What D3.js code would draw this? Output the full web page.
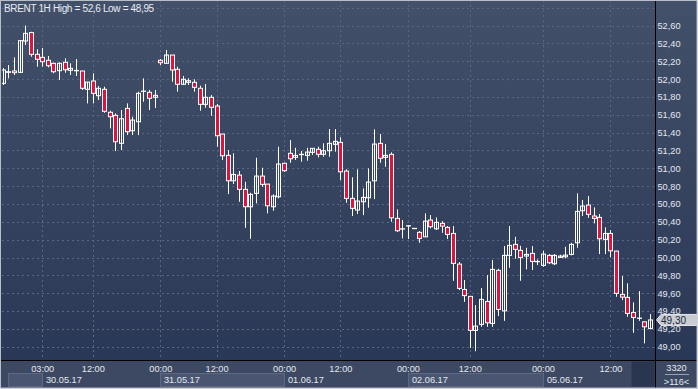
<!DOCTYPE html>
<html>
<head>
<meta charset="utf-8">
<script src="https://cdn.jsdelivr.net/npm/d3@7"></script>
<style>
  html, body { margin: 0; padding: 0; background: #2e3b57; }
  svg { display: block; }
  text { font-family: "Liberation Sans", Arial, sans-serif; }
</style>
</head>
<body>
<div class="chart"></div>
<script>
// hourly Brent candles (116 bars)
var opens = [51.953,52.076,52.091,52.076,52.427,52.522,52.278,52.244,52.211,52.177,
  52.094,52.188,52.099,52.097,52.091,51.886,51.979,51.814,51.886,51.628,
  51.594,51.280,51.672,51.421,51.522,51.863,51.852,51.796,52.211,52.177,
  52.270,52.110,51.942,51.964,51.964,51.897,51.717,51.796,51.698,51.384,
  51.145,50.860,50.924,50.764,50.569,50.719,50.913,50.823,50.569,50.681,
  51.056,51.168,51.123,51.157,51.145,51.179,51.213,51.157,51.197,51.269,
  51.291,50.969,50.663,50.532,50.625,50.670,50.860,51.280,51.123,51.157,
  50.439,50.322,50.356,50.327,50.282,50.232,50.420,50.322,50.383,50.338,
  50.270,49.926,49.642,49.564,49.183,49.250,49.508,49.261,49.856,49.402,
  50.024,50.147,50.080,50.016,50.046,49.956,49.912,50.024,49.930,50.001,
  50.008,50.035,50.165,50.524,50.588,50.465,50.450,50.203,50.270,50.072,
  49.586,49.553,49.384,49.321,49.279,49.205];
var highs = [52.124,52.158,52.244,52.438,52.600,52.531,52.334,52.349,52.259,52.184,
  52.188,52.233,52.177,52.225,52.091,51.967,52.065,51.922,51.915,51.646,
  51.616,51.653,51.728,51.578,51.859,52.009,51.878,51.878,52.225,52.326,
  52.270,52.139,52.035,52.009,51.998,51.926,51.945,51.822,51.721,51.384,
  51.205,51.168,50.969,50.849,50.726,51.118,51.006,50.823,50.708,51.242,
  51.062,51.317,51.230,51.194,51.230,51.224,51.242,51.280,51.440,51.440,
  51.347,50.988,50.899,50.988,50.775,50.999,51.437,51.384,51.272,51.179,
  50.540,50.420,50.364,50.327,50.296,50.495,50.476,50.450,50.408,50.352,
  50.352,49.949,49.747,49.564,49.466,49.657,49.803,49.971,49.874,50.128,
  50.352,50.232,50.131,50.109,50.128,49.979,50.075,50.038,50.038,50.031,
  50.120,50.165,50.719,50.644,50.689,50.562,50.487,50.338,50.308,50.075,
  49.792,49.710,49.497,49.623,49.279,49.366];
var lows = [51.934,52.009,52.046,52.068,52.382,52.251,52.139,52.139,52.132,52.065,
  51.990,52.072,52.046,52.035,51.878,51.728,51.728,51.766,51.623,51.448,
  51.194,51.205,51.373,51.373,51.373,51.746,51.653,51.676,52.158,52.177,
  51.971,51.859,51.934,51.934,51.859,51.646,51.679,51.589,51.242,51.093,
  50.711,50.823,50.625,50.333,50.210,50.607,50.793,50.495,50.524,50.663,
  50.961,51.062,51.093,51.074,51.085,51.149,51.123,51.130,51.130,51.186,
  50.868,50.614,50.465,50.487,50.476,50.558,50.655,51.062,51.017,50.401,
  50.288,50.214,50.207,50.327,50.165,50.226,50.327,50.308,50.277,50.207,
  49.739,49.635,49.503,48.987,48.950,49.223,49.223,49.223,49.343,49.290,
  49.885,49.986,49.739,49.867,49.859,49.915,49.896,49.926,49.915,49.994,
  49.990,50.024,50.109,50.465,50.445,50.383,50.038,50.038,50.001,49.560,
  49.522,49.335,49.156,49.290,49.037,49.194];
var closes = [52.102,52.083,52.072,52.431,52.513,52.278,52.222,52.195,52.150,52.083,
  52.177,52.105,52.121,52.097,51.897,51.967,51.841,51.897,51.639,51.578,
  51.298,51.556,51.410,51.541,51.841,51.866,51.785,51.818,52.184,52.270,
  52.102,51.942,51.998,51.982,51.908,51.717,51.796,51.684,51.365,51.141,
  50.860,50.932,50.764,50.569,50.708,50.913,50.820,50.580,50.689,51.048,
  50.973,51.107,51.145,51.157,51.182,51.224,51.157,51.197,51.280,51.302,
  50.961,50.663,50.551,50.633,50.674,50.846,51.272,51.112,51.145,50.445,
  50.300,50.322,50.356,50.327,50.214,50.408,50.345,50.394,50.352,50.259,
  49.934,49.654,49.573,49.183,49.231,49.530,49.268,49.867,49.418,50.024,
  50.136,50.091,50.001,50.035,49.956,49.956,50.038,49.941,50.024,50.016,
  50.027,50.147,50.517,50.577,50.484,50.439,50.210,50.270,50.075,49.598,
  49.556,49.373,49.328,49.321,49.223,49.300];

var priceTicks = [49.0,49.2,49.4,49.6,49.8,50.0,50.2,50.4,50.6,50.8,51.0,51.2,51.4,51.6,51.8,52.0,52.2,52.4,52.6];
var gridExtra = [52.8];
var timeTickIndex = [7,16,28,38,50,60,72,83,96,108];
var timeTickLabels = ["03:00","12:00","00:00","12:00","00:00","12:00","00:00","12:00","00:00","12:00"];
var dayStartIndex = [0,7,28,50,72,96];
var dayLabels = ["","30.05.17","31.05.17","01.06.17","02.06.17","05.06.17"];
var lastPrice = 49.30;
var titleText = "BRENT 1H High = 52,6 Low = 48,95";

var width = 698, height = 389;
var plotRight = 655.5, plotBottom = 360.5;

var svg = d3.select(".chart").append("svg")
  .attr("width", width)
  .attr("height", height)

var defs = svg.append("defs");

var bg = defs.append("linearGradient")
  .attr("id", "bgGrad")
  .attr("x1", "0%").attr("x2", "0%")
  .attr("y1", "0%").attr("y2", "100%");
bg.append("stop").attr("offset", "0%").attr("stop-color", "#435069")
bg.append("stop").attr("offset", "100%").attr("stop-color", "#2a3857")

defs.append("clipPath").attr("id", "plotClip")
  .append("rect")
  .attr("x", 2).attr("y", 0)
  .attr("width", plotRight - 2).attr("height", plotBottom)

svg.append("rect")
  .attr("width", width).attr("height", plotBottom)
  .attr("fill", "url(#bgGrad)")

// time axis strip
svg.append("rect")
  .attr("x", 0).attr("y", plotBottom)
  .attr("width", width).attr("height", height - plotBottom)
  .attr("fill", "#3d4862")

var x = d3.scaleBand()
  .domain(d3.range(opens.length))
  .range([0.5, 653.1])

var y = d3.scaleLinear()
  .domain([49, 52.6])
  .range([346.7, 25.6])

var cx = (i) => Math.floor(x(i) + x.bandwidth() / 2) + 0.5

// grid
var grid = svg.append("g").attr("clip-path", "url(#plotClip)")
grid.selectAll("line.h")
  .data(priceTicks.concat(gridExtra))
  .join("line")
  .attr("class", "h")
  .attr("x1", 2).attr("x2", plotRight)
  .attr("y1", d => Math.round(y(d)) + 0.5)
  .attr("y2", d => Math.round(y(d)) + 0.5)
  .attr("stroke", "#5a6782")
  .attr("stroke-dasharray", "2,3")

grid.selectAll("line.v")
  .data(timeTickIndex)
  .join("line")
  .attr("class", "v")
  .attr("x1", cx).attr("x2", cx)
  .attr("y1", 0).attr("y2", plotBottom)
  .attr("stroke", "#5a6782")
  .attr("stroke-dasharray", "2,3")

// candles
var plot = svg.append("g").attr("clip-path", "url(#plotClip)")
var candle = plot.selectAll("g.candle")
  .data(d3.range(opens.length))
  .join("g")
  .attr("class", "candle")

candle.append("line")
  .attr("x1", cx).attr("x2", cx)
  .attr("y1", i => y(highs[i]))
  .attr("y2", i => y(lows[i]))
  .attr("stroke", "#ffffff")
  .attr("stroke-width", 1)

candle.append("rect")
  .attr("x", i => cx(i) - 2)
  .attr("width", 4)
  .attr("y", i => y(Math.max(opens[i], closes[i])))
  .attr("height", i => Math.max(Math.abs(y(opens[i]) - y(closes[i])), 0.3))
  .attr("fill", i => closes[i] < opens[i] ? "#e2123c" : "none")
  .attr("stroke", "#ffffff")
  .attr("stroke-width", 1)

// separators
svg.append("line")
  .attr("x1", plotRight).attr("x2", plotRight)
  .attr("y1", 0).attr("y2", height)
  .attr("stroke", "#000000")
svg.append("line")
  .attr("x1", 0).attr("x2", width)
  .attr("y1", plotBottom).attr("y2", plotBottom)
  .attr("stroke", "#000000")

// price axis
var fmt = d3.format(".2f")
var priceAxis = svg.append("g")
  .attr("transform", `translate(${plotRight},0)`)
  .call(d3.axisRight(y)
    .tickValues(priceTicks)
    .tickSize(0)
    .tickPadding(2)
    .tickFormat(d => fmt(d).replace(".", ",")))
priceAxis.select(".domain").remove()
priceAxis.selectAll("text")
  .attr("fill", "#e4e8f0")
  .attr("font-size", "9.2px")
  .attr("font-family", "Liberation Sans, Arial, sans-serif")

// day boxes in the lower row
var dayEnd = dayStartIndex.slice(1).concat([null])
var days = svg.append("g")
dayStartIndex.forEach((s, k) => {
  var x0 = k === 0 ? 8.5 : cx(s)
  var x1 = dayEnd[k] === null ? 630.5 : cx(dayEnd[k])
  if (k % 2 === 0) {
    days.append("rect")
      .attr("x", x0).attr("y", 373.5)
      .attr("width", x1 - x0).attr("height", 13)
      .attr("fill", "#4a5671")
      .attr("stroke", "#5d6882")
  } else {
    days.append("line")
      .attr("x1", x0).attr("x2", x0)
      .attr("y1", 373.5).attr("y2", 386.5)
      .attr("stroke", "#5d6882")
  }
  if (dayLabels[k]) {
    days.append("text")
      .attr("x", x0 + 3.5)
      .attr("y", 383)
      .attr("fill", "#e4e8f0")
      .attr("font-size", "9.2px")
      .text(dayLabels[k])
  }
})

// future area box
svg.append("rect")
  .attr("x", 631.5).attr("y", 361.5)
  .attr("width", 23).attr("height", 25)
  .attr("fill", "#2a3550")

// time axis
var timeAxis = svg.append("g")
  .attr("transform", `translate(0,${plotBottom})`)
  .call(d3.axisBottom(x)
    .tickValues(timeTickIndex)
    .tickSize(0)
    .tickPadding(4.5)
    .tickFormat((d, i) => timeTickLabels[i]))
timeAxis.select(".domain").remove()
timeAxis.selectAll("text")
  .attr("fill", "#e4e8f0")
  .attr("font-size", "9.2px")
  .attr("font-family", "Liberation Sans, Arial, sans-serif")

// bar counter, bottom right
svg.append("text")
  .attr("x", 676.5).attr("y", 370.5)
  .attr("text-anchor", "middle")
  .attr("fill", "#e4e8f0")
  .attr("font-size", "9.2px")
  .text("3320")
svg.append("line")
  .attr("x1", 665).attr("x2", 689)
  .attr("y1", 374.5).attr("y2", 374.5)
  .attr("stroke", "#9aa3b5")
svg.append("text")
  .attr("x", 676.5).attr("y", 385)
  .attr("text-anchor", "middle")
  .attr("fill", "#e4e8f0")
  .attr("font-size", "9.2px")
  .text(">" + opens.length + "<")

// last price marker
var ly = y(lastPrice)
svg.append("path")
  .attr("d", `M656.5,${ly} L661,${ly - 5.5} L697,${ly - 5.5} L697,${ly + 5.5} L661,${ly + 5.5} Z`)
  .attr("fill", "#c8ccd3")
  .attr("stroke", "#e6e8ec")
svg.append("text")
  .attr("x", 661).attr("y", ly + 3.6)
  .attr("fill", "#1e2638")
  .attr("font-size", "10px")
  .text(fmt(lastPrice).replace(".", ","))

// title
svg.append("text")
  .attr("x", 4).attr("y", 12)
  .attr("fill", "#e8ecf4")
  .attr("font-size", "10px")
  .attr("letter-spacing", "-0.35px")
  .text(titleText)

// outer frame
svg.append("rect")
  .attr("x", 0.5).attr("y", 0.5)
  .attr("width", width - 1.5).attr("height", height - 1.5)
  .attr("fill", "none")
  .attr("stroke", "#b9bec8")
svg.append("line")
  .attr("x1", 0).attr("x2", width)
  .attr("y1", height - 0.5).attr("y2", height - 0.5)
  .attr("stroke", "#d0d3d9")
svg.append("line")
  .attr("x1", width - 0.5).attr("x2", width - 0.5)
  .attr("y1", 0).attr("y2", height)
  .attr("stroke", "#d0d3d9")
</script>
</body>
</html>
